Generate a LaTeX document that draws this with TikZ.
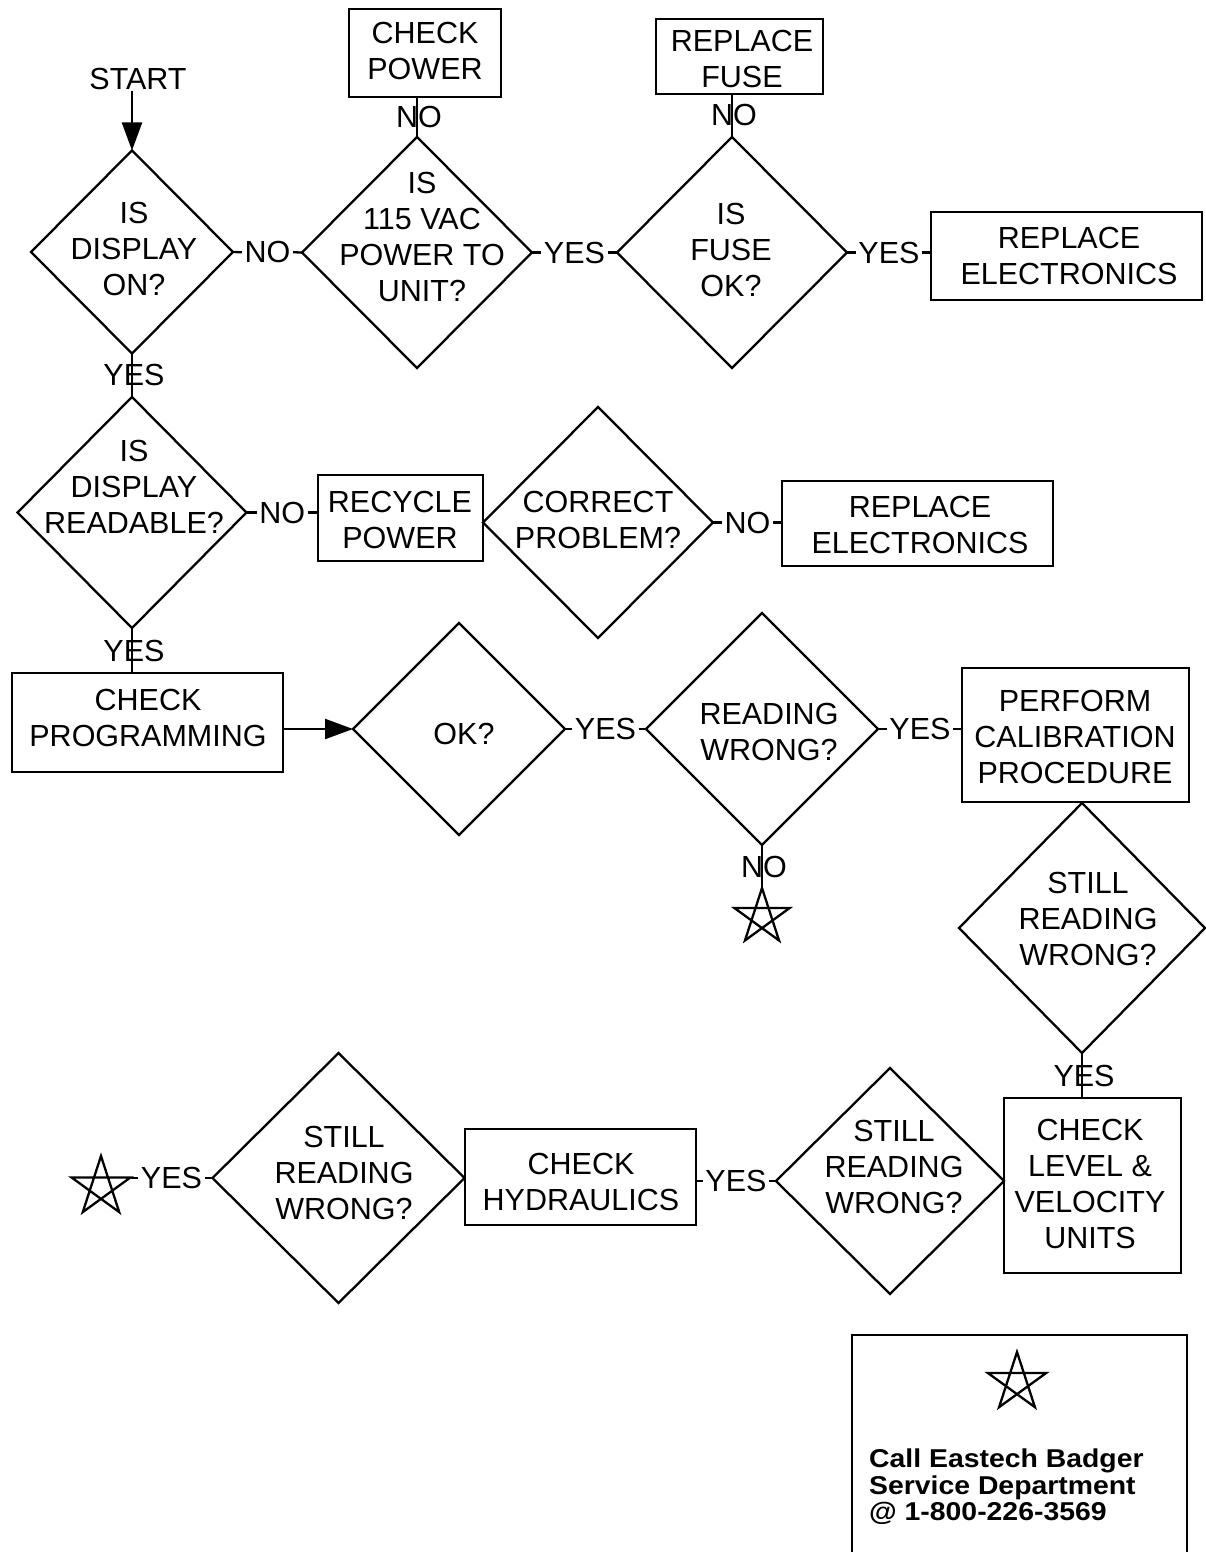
\documentclass[tikz,border=0pt]{standalone}
\usepackage{fontspec}
\setmainfont{Liberation Sans}
\newfontfamily\legendfont{Liberation Sans}[FakeStretch=1.1]
\usetikzlibrary{shapes.geometric,arrows.meta,calc}
\begin{document}
\begin{tikzpicture}[x=1pt,y=-1pt,
  line width=2.3pt,
  dia/.style={diamond,draw,inner sep=0pt,outer sep=0pt},
  stepbox/.style={rectangle,draw,inner sep=0pt,outer sep=0pt},
  txt/.style={align=center,inner sep=0pt,text depth=0pt,font=\fontsize{30.5}{36}\selectfont},
  lbl/.style={inner xsep=1.5pt,inner ysep=0pt,font=\fontsize{30.5}{36}\selectfont},
  vlbl/.style={lbl,midway,xshift=2pt},
  tip/.style={-{Triangle[length=28pt,width=20pt]}},
  pics/pentagram/.style={code={\draw (270:#1) -- (54:#1) -- (198:#1) -- (342:#1) -- (126:#1) -- cycle;}}
]
\useasboundingbox (0,0) rectangle (1206,1552);

% decision diamonds
\node[dia,minimum width=202,minimum height=203] (d1) at (132,252) {};
\node[dia,minimum width=230,minimum height=231] (d2) at (417,252.5) {};
\node[dia,minimum width=230,minimum height=231] (d3) at (732,252.5) {};
\node[dia,minimum width=229,minimum height=231] (d4) at (132,512.5) {};
\node[dia,minimum width=230,minimum height=231] (d5) at (598,522.5) {};
\node[dia,minimum width=212,minimum height=212] (d6) at (459,729) {};
\node[dia,minimum width=232,minimum height=232] (d7) at (762,729) {};
\node[dia,minimum width=246,minimum height=250] (d8) at (1082,928) {};
\node[dia,minimum width=228,minimum height=226] (d9) at (890,1181) {};
\node[dia,minimum width=252,minimum height=250] (d10) at (338.5,1178) {};

% action boxes
\node[stepbox,minimum width=152,minimum height=88] (cp) at (425,53) {};
\node[stepbox,minimum width=167,minimum height=75] (rf) at (739.5,56.5) {};
\node[stepbox,minimum width=271,minimum height=88] (re1) at (1066.5,256) {};
\node[stepbox,minimum width=165,minimum height=86] (rp) at (400.5,518) {};
\node[stepbox,minimum width=271,minimum height=85] (re2) at (917.5,523.5) {};
\node[stepbox,minimum width=271,minimum height=99] (prog) at (147.5,722.5) {};
\node[stepbox,minimum width=227,minimum height=134] (cal) at (1075.5,735) {};
\node[stepbox,minimum width=177,minimum height=175] (lv) at (1092.5,1185.5) {};
\node[stepbox,minimum width=231,minimum height=96] (hy) at (580.5,1177) {};

% texts
\node[txt] (start) at (138,79) {START};
\node[txt] (t1) at (134,249) {IS\\DISPLAY\\ON?};
\node[txt] (t2) at (422,237) {IS\\115 VAC\\POWER TO\\UNIT?};
\node[txt] (t3) at (731,250) {IS\\FUSE\\OK?};
\node[txt] (tcp) at (425,51) {CHECK\\POWER};
\node[txt] (trf) at (742,59) {REPLACE\\FUSE};
\node[txt] (tre1) at (1069,255.5) {REPLACE\\ELECTRONICS};
\node[txt] (t4) at (134,487) {IS\\DISPLAY\\READABLE?};
\node[txt] (trp) at (400,520) {RECYCLE\\POWER};
\node[txt] (t5) at (598,520) {CORRECT\\PROBLEM?};
\node[txt] (tre2) at (920,525) {REPLACE\\ELECTRONICS};
\node[txt] (tprog) at (148,718) {CHECK\\PROGRAMMING};
\node[txt] (t6) at (464,734) {OK?};
\node[txt] (t7) at (769,732) {READING\\WRONG?};
\node[txt] (tcal) at (1075,737) {PERFORM\\CALIBRATION\\PROCEDURE};
\node[txt] (t8) at (1088,919) {STILL\\READING\\WRONG?};
\node[txt] (tlv) at (1090,1184) {CHECK\\LEVEL \&\\VELOCITY\\UNITS};
\node[txt] (t9) at (894,1167) {STILL\\READING\\WRONG?};
\node[txt] (thy) at (581,1182) {CHECK\\HYDRAULICS};
\node[txt] (t10) at (344,1173) {STILL\\READING\\WRONG?};

% stars (call for service)
\coordinate (s1) at (762,917);
\coordinate (s1tip) at (762,888);
\pic at (s1) {pentagram=29};
\coordinate (s2) at (101,1187);
\coordinate (s2tip) at (130.5,1178);
\pic at (s2) {pentagram=31};

% arrows
\draw[tip] (start.south -| d1.north) -- (d1.north);
\draw[tip] (prog.east |- d6.west) -- (d6.west);

% horizontal connectors with labels
\node[lbl] (n12) at ($(d1.east)!0.5!(d2.west)$) {NO};
\draw (d1.east) -- (n12.west) (n12.east) -- (d2.west);
\node[lbl] (n23) at ($(d2.east)!0.5!(d3.west)$) {YES};
\draw (d2.east) -- (n23.west) (n23.east) -- (d3.west);
\node[lbl] (n3e) at ($(d3.east)!0.5!(re1.west |- d3.east)$) {YES};
\draw (d3.east) -- (n3e.west) (n3e.east) -- (re1.west |- d3.east);
\node[lbl] (n4r) at ($(d4.east)!0.5!(rp.west |- d4.east)$) {NO};
\draw (d4.east) -- (n4r.west) (n4r.east) -- (rp.west |- d4.east);
\node[lbl] (n5e) at ($(d5.east)!0.5!(re2.west |- d5.east)$) {NO};
\draw (d5.east) -- (n5e.west) (n5e.east) -- (re2.west |- d5.east);
\node[lbl] (n67) at ($(d6.east)!0.5!(d7.west)$) {YES};
\draw (d6.east) -- (n67.west) (n67.east) -- (d7.west);
\node[lbl] (n7c) at ($(d7.east)!0.5!(cal.west |- d7.east)$) {YES};
\draw (d7.east) -- (n7c.west) (n7c.east) -- (cal.west |- d7.east);
\node[lbl] (n9h) at ($(d9.west)!0.5!(hy.east |- d9.west)$) {YES};
\draw (d9.west) -- (n9h.east) (n9h.west) -- (hy.east |- d9.west);
\node[lbl] (n10s) at ($(d10.west)!0.5!(s2tip)$) {YES};
\draw (d10.west) -- (n10s.east) (n10s.west) -- (s2tip);

% vertical connectors with labels
\draw (d2.north) -- (d2.north |- cp.south) node[vlbl] (n2c) {NO};
\draw (d3.north) -- (d3.north |- rf.south) node[vlbl] (n3f) {NO};
\draw (d1.south) -- (d4.north) node[vlbl] (n14) {YES};
\draw (d4.south) -- (d4.south |- prog.north) node[vlbl] (n4p) {YES};
\draw (d7.south) -- (s1tip) node[vlbl] (n7s) {NO};
\draw (d8.south) -- (d8.south |- lv.north) node[vlbl] (n8l) {YES};

% legend
\draw (852,1552) -- (852,1335) -- (1187,1335) -- (1187,1552);
\coordinate (s3) at (1017,1382.5);
\pic at (s3) {pentagram=30.5};
\node[anchor=north west,align=left,inner sep=0pt,
  font={\legendfont\bfseries\fontsize{25.8}{26.5}\selectfont}] (call) at (868,1448)
  {Call Eastech Badger\\Service Department\\@ 1-800-226-3569};
\end{tikzpicture}
\end{document}
